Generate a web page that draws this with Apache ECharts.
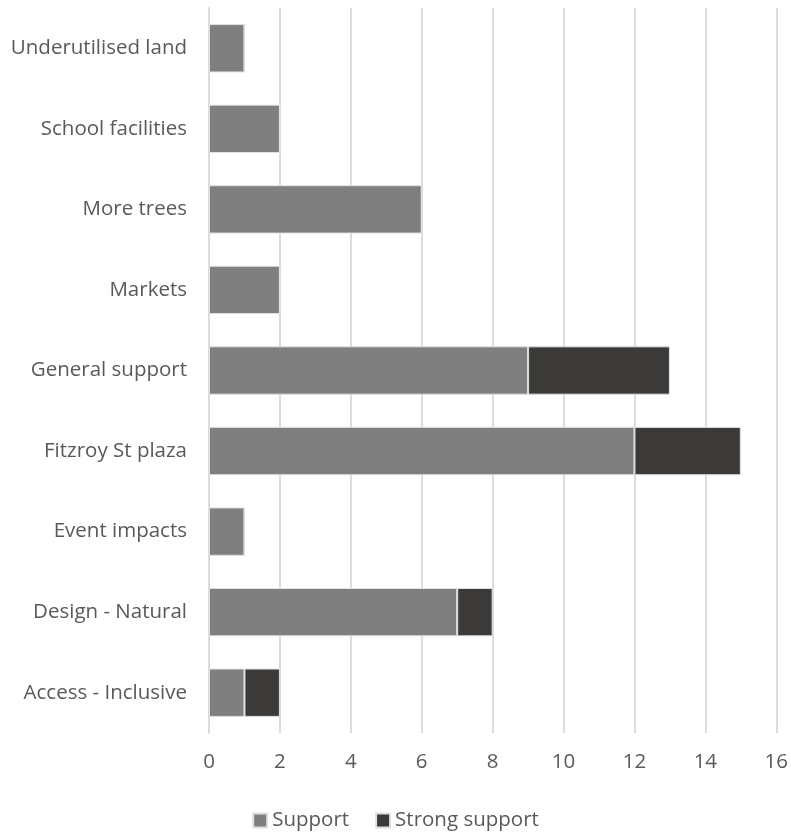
<!DOCTYPE html>
<html><head><meta charset="utf-8">
<script src="https://cdn.jsdelivr.net/npm/echarts@6/dist/echarts.min.js"></script>
<style>html,body{margin:0;padding:0;background:#fff}#c{width:791px;height:834px}</style>
</head><body><div id="c"></div>
<script>
const categories = ['Access - Inclusive','Design - Natural','Event impacts','Fitzroy St plaza','General support','Markets','More trees','School facilities','Underutilised land'];
const support = [1,7,1,12,9,2,6,2,1];
const strongSupport = [1,1,0,3,4,0,0,0,0];
const seriesNames = ['Support','Strong support'];
const FONT = 'Open Sans';
const FS = 20.5;
const chart = echarts.init(document.getElementById('c'));
chart.setOption({
  animation:false,
  textStyle:{fontFamily:FONT},
  grid:{left:209,right:14,top:8,bottom:101,containLabel:false},
  legend:{top:805,left:'center',itemWidth:14,itemHeight:14,itemGap:26,icon:'rect',
    textStyle:{fontFamily:FONT,fontSize:FS,color:'#595959'},
    data:seriesNames},
  xAxis:{type:'value',min:0,max:16,interval:2,
    axisLine:{show:false},axisTick:{show:false},
    axisLabel:{fontFamily:FONT,fontSize:FS,color:'#595959',margin:19},
    splitLine:{show:true,lineStyle:{color:'#dcdcdc',width:2}}},
  yAxis:{type:'category',data:categories,
    axisLine:{show:true,lineStyle:{color:'#dcdcdc',width:2}},axisTick:{show:false},
    axisLabel:{fontFamily:FONT,fontSize:FS,color:'#595959',margin:22}},
  series:[
    {name:seriesNames[0],type:'bar',stack:'a',data:support,barCategoryGap:'40%',
      itemStyle:{color:'#7f7f7f',borderColor:'#e0e0e0',borderWidth:1}},
    {name:seriesNames[1],type:'bar',stack:'a',data:strongSupport,barCategoryGap:'40%',
      itemStyle:{color:'#3b3a38',borderColor:'#e0e0e0',borderWidth:1}}
  ]
});
</script></body></html>
